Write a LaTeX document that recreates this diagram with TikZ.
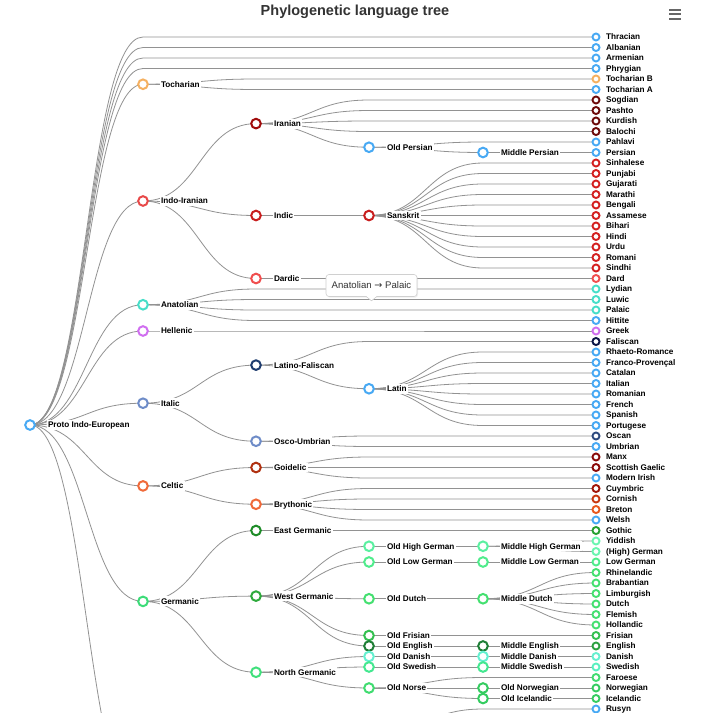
\documentclass[tikz,border=0pt]{standalone}
\usepackage{fontspec}
\setmainfont{Liberation Sans}
\newfontfamily\arrowfont{DejaVu Sans}
\usetikzlibrary{backgrounds,shadows}
\definecolor{cEdge}{HTML}{929292}
\definecolor{cTxt}{HTML}{333333}
\definecolor{cIcon}{HTML}{666666}
\definecolor{cBlue}{HTML}{47A9F4}
\definecolor{cToch}{HTML}{F5B060}
\definecolor{cIndIr}{HTML}{E84848}
\definecolor{cIran}{HTML}{A00C0C}
\definecolor{cSogd}{HTML}{6E0A0A}
\definecolor{cIndic}{HTML}{C81E1E}
\definecolor{cSansL}{HTML}{D42020}
\definecolor{cDard}{HTML}{F04E4E}
\definecolor{cAnat}{HTML}{46DEC8}
\definecolor{cHell}{HTML}{D06EF0}
\definecolor{cItal}{HTML}{6E8CC8}
\definecolor{cLatF}{HTML}{1E3C6E}
\definecolor{cFalis}{HTML}{0A1446}
\definecolor{cOscan}{HTML}{2E4A7E}
\definecolor{cCelt}{HTML}{F06A3A}
\definecolor{cGoid}{HTML}{B03010}
\definecolor{cManx}{HTML}{8A0A0A}
\definecolor{cBryth}{HTML}{F06838}
\definecolor{cCuym}{HTML}{A01408}
\definecolor{cCorn}{HTML}{C83810}
\definecolor{cBret}{HTML}{E8581E}
\definecolor{cGerm}{HTML}{3CDC78}
\definecolor{cEGerm}{HTML}{1E8C28}
\definecolor{cGoth}{HTML}{24A030}
\definecolor{cWGerm}{HTML}{2EAA3C}
\definecolor{cOHG}{HTML}{5AF0A0}
\definecolor{cYidd}{HTML}{6AF5B0}
\definecolor{cOLG}{HTML}{50EC8C}
\definecolor{cDutch}{HTML}{44E070}
\definecolor{cFris}{HTML}{34C050}
\definecolor{cOEng}{HTML}{1E7E36}
\definecolor{cEng}{HTML}{2CA040}
\definecolor{cNGerm}{HTML}{40E07C}
\definecolor{cDan}{HTML}{64F0D0}
\definecolor{cOSwe}{HTML}{44E890}
\definecolor{cSwe}{HTML}{58F0C0}
\definecolor{cNorse}{HTML}{40DC70}
\definecolor{cNorw}{HTML}{34CC60}
\definecolor{cTipBorder}{HTML}{D0D0D0}
\newcommand\mkleaf[4]{\node[lf=#4, label={[leaflab]right:#3}] (#1) at (596,#2) {};}
\newcommand\mknode[5]{\node[nd=#5, label={[intlab]right:#4}] (#1) at (#2,#3) {};}
\newcommand\lnk[2]{\draw[edgeln] (#1.center) .. controls +(56.5,0) and +(-56.5,0) .. (#2.center);}
\newcommand\lnkv[3]{\draw[edgeln] (#1.center) .. controls +(56.5,0) and +(-56.5,0) .. (#2.center -| #3) -- (#2.center);}
\begin{document}
\begin{tikzpicture}[x=1pt,y=-1pt,
  edgeln/.style={draw=cEdge, line width=0.8pt},
  nd/.style={circle, draw=#1, fill=white, line width=2pt, minimum size=9.6pt, inner sep=0pt, outer sep=1pt},
  lf/.style={circle, draw=#1, fill=white, line width=1.9pt, minimum size=7pt, inner sep=0pt, outer sep=0.95pt},
  intlab/.style={font=\bfseries\fontsize{8.2}{9.8}\selectfont, fill=white, inner xsep=1.2pt, inner ysep=2pt, outer sep=0pt, text height=5.9pt, text depth=0pt, xshift=11pt},
  leaflab/.style={font=\bfseries\fontsize{8.2}{9.8}\selectfont, inner sep=1pt, outer sep=0pt, text height=5.9pt, text depth=0pt, xshift=4.6pt},
  tipbox/.style={fill=white, draw=cTipBorder, line width=0.6pt, rounded corners=3pt, minimum width=91pt, minimum height=22pt, inner sep=2pt, text=cTxt, font=\fontsize{9.6}{11.5}\selectfont, drop shadow={opacity=0.12, shadow xshift=1pt, shadow yshift=-1.2pt}},
]
\useasboundingbox (0,0) rectangle (709,713);
\coordinate (L1) at (143,0);
\coordinate (L2) at (256,0);
\coordinate (L3) at (369,0);
\coordinate (L4) at (483,0);
% internal nodes
\mknode{root}{30}{425}{Proto Indo-European}{cBlue}
\mknode{toch}{143}{84.25}{Tocharian}{cToch}
\mknode{indir}{143}{201}{Indo-Iranian}{cIndIr}
\mknode{anat}{143}{304.75}{Anatolian}{cAnat}
\mknode{hell}{143}{331}{Hellenic}{cHell}
\mknode{ital}{143}{403.2}{Italic}{cItal}
\mknode{celt}{143}{485.9}{Celtic}{cCelt}
\mknode{germ}{143}{601.4}{Germanic}{cGerm}
\coordinate (bsl) at (143,813);
\mknode{iran}{256}{123.6}{Iranian}{cIran}
\mknode{indic}{256}{215.5}{Indic}{cIndic}
\mknode{dardic}{256}{278.5}{Dardic}{cDard}
\mknode{latf}{256}{365.1}{Latino-Faliscan}{cLatF}
\mknode{oscu}{256}{441.25}{Osco-Umbrian}{cItal}
\mknode{goid}{256}{467.5}{Goidelic}{cGoid}
\mknode{bryth}{256}{504.25}{Brythonic}{cBryth}
\mknode{egerm}{256}{530.5}{East Germanic}{cEGerm}
\mknode{wgerm}{256}{596.1}{West Germanic}{cWGerm}
\mknode{ngerm}{256}{672.25}{North Germanic}{cNGerm}
\mknode{opers}{369}{147.25}{Old Persian}{cBlue}
\mknode{sansk}{369}{215.5}{Sanskrit}{cIndic}
\mknode{latin}{369}{388.75}{Latin}{cBlue}
\mknode{ohg}{369}{546.25}{Old High German}{cOHG}
\mknode{olg}{369}{562}{Old Low German}{cOLG}
\mknode{odutch}{369}{598.75}{Old Dutch}{cDutch}
\mknode{ofris}{369}{635.5}{Old Frisian}{cFris}
\mknode{oeng}{369}{646}{Old English}{cOEng}
\mknode{odan}{369}{656.5}{Old Danish}{cDan}
\mknode{oswe}{369}{667}{Old Swedish}{cOSwe}
\mknode{onorse}{369}{688}{Old Norse}{cNorse}
\coordinate (eslav) at (369,735);
\mknode{mpers}{483}{152.5}{Middle Persian}{cBlue}
\mknode{mhg}{483}{546.25}{Middle High German}{cOHG}
\mknode{mlg}{483}{562}{Middle Low German}{cOLG}
\mknode{mdutch}{483}{598.75}{Middle Dutch}{cDutch}
\mknode{meng}{483}{646}{Middle English}{cOEng}
\mknode{mdan}{483}{656.5}{Middle Danish}{cDan}
\mknode{mswe}{483}{667}{Middle Swedish}{cOSwe}
\mknode{onorw}{483}{688}{Old Norwegian}{cNorw}
\mknode{oice}{483}{698.5}{Old Icelandic}{cNorw}
% leaves
\mkleaf{thr}{37}{Thracian}{cBlue}
\mkleaf{alb}{47.5}{Albanian}{cBlue}
\mkleaf{arm}{58}{Armenian}{cBlue}
\mkleaf{phr}{68.5}{Phrygian}{cBlue}
\mkleaf{tochb}{79}{Tocharian B}{cToch}
\mkleaf{tocha}{89.5}{Tocharian A}{cBlue}
\mkleaf{sogd}{100}{Sogdian}{cSogd}
\mkleaf{pasht}{110.5}{Pashto}{cSogd}
\mkleaf{kurd}{121}{Kurdish}{cSogd}
\mkleaf{baloc}{131.5}{Balochi}{cSogd}
\mkleaf{pahl}{142}{Pahlavi}{cBlue}
\mkleaf{pers}{152.5}{Persian}{cBlue}
\mkleaf{sinh}{163}{Sinhalese}{cSansL}
\mkleaf{punj}{173.5}{Punjabi}{cSansL}
\mkleaf{guj}{184}{Gujarati}{cSansL}
\mkleaf{mara}{194.5}{Marathi}{cSansL}
\mkleaf{beng}{205}{Bengali}{cSansL}
\mkleaf{assa}{215.5}{Assamese}{cSansL}
\mkleaf{biha}{226}{Bihari}{cSansL}
\mkleaf{hind}{236.5}{Hindi}{cSansL}
\mkleaf{urdu}{247}{Urdu}{cSansL}
\mkleaf{roma}{257.5}{Romani}{cSansL}
\mkleaf{sind}{268}{Sindhi}{cSansL}
\mkleaf{dard}{278.5}{Dard}{cDard}
\mkleaf{lyd}{289}{Lydian}{cAnat}
\mkleaf{luw}{299.5}{Luwic}{cAnat}
\mkleaf{pal}{310}{Palaic}{cAnat}
\mkleaf{hitt}{320.5}{Hittite}{cBlue}
\mkleaf{greek}{331}{Greek}{cHell}
\mkleaf{falis}{341.5}{Faliscan}{cFalis}
\mkleaf{rhaet}{352}{Rhaeto-Romance}{cBlue}
\mkleaf{franp}{362.5}{Franco-Provençal}{cBlue}
\mkleaf{catal}{373}{Catalan}{cBlue}
\mkleaf{itali}{383.5}{Italian}{cBlue}
\mkleaf{roman}{394}{Romanian}{cBlue}
\mkleaf{frenc}{404.5}{French}{cBlue}
\mkleaf{spani}{415}{Spanish}{cBlue}
\mkleaf{portu}{425.5}{Portugese}{cBlue}
\mkleaf{oscan}{436}{Oscan}{cOscan}
\mkleaf{umbr}{446.5}{Umbrian}{cBlue}
\mkleaf{manx}{457}{Manx}{cManx}
\mkleaf{scot}{467.5}{Scottish Gaelic}{cManx}
\mkleaf{mirish}{478}{Modern Irish}{cBlue}
\mkleaf{cuym}{488.5}{Cuymbric}{cCuym}
\mkleaf{corn}{499}{Cornish}{cCorn}
\mkleaf{bret}{509.5}{Breton}{cBret}
\mkleaf{wels}{520}{Welsh}{cBlue}
\mkleaf{goth}{530.5}{Gothic}{cGoth}
\mkleaf{yidd}{541}{Yiddish}{cYidd}
\mkleaf{hgerm}{551.5}{(High) German}{cYidd}
\mkleaf{lgerm}{562}{Low German}{cOLG}
\mkleaf{rhin}{572.5}{Rhinelandic}{cDutch}
\mkleaf{brab}{583}{Brabantian}{cDutch}
\mkleaf{limb}{593.5}{Limburgish}{cDutch}
\mkleaf{dutch}{604}{Dutch}{cDutch}
\mkleaf{flem}{614.5}{Flemish}{cDutch}
\mkleaf{holl}{625}{Hollandic}{cDutch}
\mkleaf{fris}{635.5}{Frisian}{cFris}
\mkleaf{eng}{646}{English}{cEng}
\mkleaf{dan}{656.5}{Danish}{cDan}
\mkleaf{swe}{667}{Swedish}{cSwe}
\mkleaf{faro}{677.5}{Faroese}{cNorse}
\mkleaf{norw}{688}{Norwegian}{cNorw}
\mkleaf{ice}{698.5}{Icelandic}{cNorw}
\mkleaf{rusyn}{709}{Rusyn}{cBlue}
% connectors
\begin{pgfonlayer}{background}
\fill[white] (0,0) rectangle (709,713);
\clip (0,0) rectangle (709,713);
\lnkv{root}{thr}{L1}\lnkv{root}{alb}{L1}\lnkv{root}{arm}{L1}\lnkv{root}{phr}{L1}
\lnk{root}{toch}\lnk{root}{indir}\lnk{root}{anat}\lnk{root}{hell}
\lnk{root}{ital}\lnk{root}{celt}\lnk{root}{germ}\lnk{root}{bsl}
\lnkv{toch}{tochb}{L2}\lnkv{toch}{tocha}{L2}
\lnk{indir}{iran}\lnk{indir}{indic}\lnk{indir}{dardic}
\lnkv{iran}{sogd}{L3}\lnkv{iran}{pasht}{L3}\lnkv{iran}{kurd}{L3}\lnkv{iran}{baloc}{L3}
\lnk{iran}{opers}
\lnkv{opers}{pahl}{L4}\lnk{opers}{mpers}\lnk{mpers}{pers}
\lnk{indic}{sansk}
\lnkv{sansk}{sinh}{L4}\lnkv{sansk}{punj}{L4}\lnkv{sansk}{guj}{L4}\lnkv{sansk}{mara}{L4}
\lnkv{sansk}{beng}{L4}\lnkv{sansk}{assa}{L4}\lnkv{sansk}{biha}{L4}\lnkv{sansk}{hind}{L4}
\lnkv{sansk}{urdu}{L4}\lnkv{sansk}{roma}{L4}\lnkv{sansk}{sind}{L4}
\lnkv{dardic}{dard}{L3}
\lnkv{anat}{lyd}{L2}\lnkv{anat}{luw}{L2}\lnkv{anat}{pal}{L2}\lnkv{anat}{hitt}{L2}
\lnkv{hell}{greek}{L2}
\lnk{ital}{latf}\lnk{ital}{oscu}
\lnkv{latf}{falis}{L3}\lnk{latf}{latin}
\lnkv{latin}{rhaet}{L4}\lnkv{latin}{franp}{L4}\lnkv{latin}{catal}{L4}\lnkv{latin}{itali}{L4}
\lnkv{latin}{roman}{L4}\lnkv{latin}{frenc}{L4}\lnkv{latin}{spani}{L4}\lnkv{latin}{portu}{L4}
\lnkv{oscu}{oscan}{L3}\lnkv{oscu}{umbr}{L3}
\lnk{celt}{goid}\lnk{celt}{bryth}
\lnkv{goid}{manx}{L3}\lnkv{goid}{scot}{L3}\lnkv{goid}{mirish}{L3}
\lnkv{bryth}{cuym}{L3}\lnkv{bryth}{corn}{L3}\lnkv{bryth}{bret}{L3}\lnkv{bryth}{wels}{L3}
\lnk{germ}{egerm}\lnk{germ}{wgerm}\lnk{germ}{ngerm}
\lnkv{egerm}{goth}{L3}
\lnk{wgerm}{ohg}\lnk{wgerm}{olg}\lnk{wgerm}{odutch}\lnk{wgerm}{ofris}\lnk{wgerm}{oeng}
\lnk{ohg}{mhg}\lnk{mhg}{yidd}\lnk{mhg}{hgerm}
\lnk{olg}{mlg}\lnk{mlg}{lgerm}
\lnk{odutch}{mdutch}
\lnk{mdutch}{rhin}\lnk{mdutch}{brab}\lnk{mdutch}{limb}\lnk{mdutch}{dutch}\lnk{mdutch}{flem}\lnk{mdutch}{holl}
\lnkv{ofris}{fris}{L4}
\lnk{oeng}{meng}\lnk{meng}{eng}
\lnk{ngerm}{odan}\lnk{ngerm}{oswe}\lnk{ngerm}{onorse}
\lnk{odan}{mdan}\lnk{mdan}{dan}
\lnk{oswe}{mswe}\lnk{mswe}{swe}
\lnkv{onorse}{faro}{L4}\lnk{onorse}{onorw}\lnk{onorse}{oice}
\lnk{onorw}{norw}\lnk{oice}{ice}
\lnkv{eslav}{rusyn}{L4}
\end{pgfonlayer}
% title and menu icon
\node[font=\bfseries\fontsize{14.5}{17}\selectfont, text=cTxt, anchor=base] (title) at (355,15.5) {Phylogenetic language tree};
\draw[cIcon, line width=2pt] (669,9.5) -- (681,9.5) (669,14) -- (681,14) (669,18.5) -- (681,18.5);
% tooltip
\node[tipbox] (tip) at (371.5,285.5) {Anatolian {\arrowfont →} Palaic};
\fill[white] ([xshift=-5pt,yshift=0.6pt]tip.south) -- ([yshift=-4pt]tip.south) -- ([xshift=5pt,yshift=0.6pt]tip.south) -- cycle;
\draw[cTipBorder, line width=0.6pt] ([xshift=-5pt]tip.south) -- ([yshift=-4pt]tip.south) -- ([xshift=5pt]tip.south);
\end{tikzpicture}
\end{document}
